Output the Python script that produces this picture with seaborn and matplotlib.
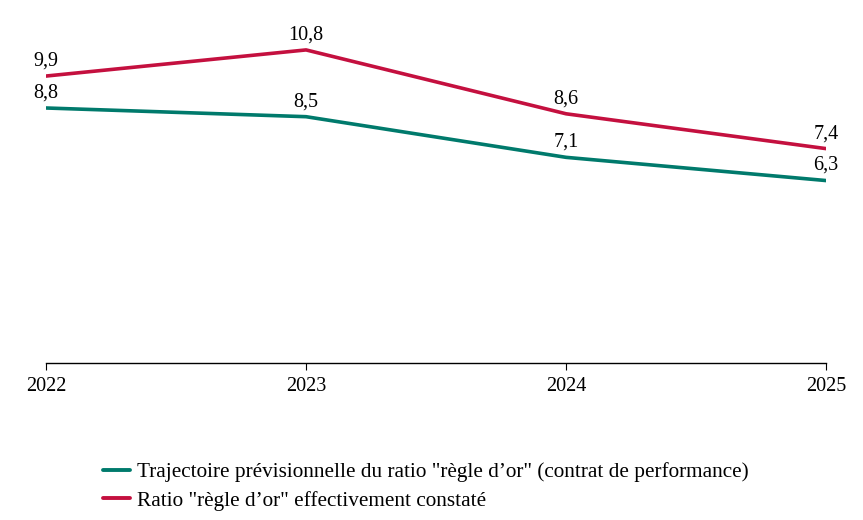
import matplotlib
matplotlib.use('Agg')
import matplotlib.pyplot as plt
import seaborn as sns
import pandas as pd

# Données
annees = [2022, 2023, 2024, 2025]
trajectoire = [8.8, 8.5, 7.1, 6.3]
constate = [9.9, 10.8, 8.6, 7.4]
noms_series = ['Trajectoire prévisionnelle du ratio "règle d\u2019or" (contrat de performance)',
               'Ratio "règle d\u2019or" effectivement constaté']
couleurs = ['#007A6C', '#C4103F']

dados = pd.DataFrame({
    'annee': annees * 2,
    'valeur': trajectoire + constate,
    'serie': [noms_series[0]] * 4 + [noms_series[1]] * 4,
})

sns.set_style('white')
plt.rcParams['font.family'] = ['Liberation Serif', 'DejaVu Serif']
plt.rcParams['text.color'] = 'black'
plt.rcParams['xtick.color'] = 'black'

fig = plt.figure(figsize=(8.63, 5.2), dpi=100)
ax = fig.add_axes([0.0533, 0.301, 0.904, 0.67])

sns.lineplot(data=dados, x='annee', y='valeur', hue='serie', palette=couleurs,
             linewidth=2.6, ax=ax, legend=False)

for serie, valeurs in zip(noms_series, [trajectoire, constate]):
    for x, y in zip(annees, valeurs):
        ax.annotate(f'{y:.1f}'.replace('.', ','), (x, y), xytext=(0, 4),
                    textcoords='offset points', ha='center', va='bottom', fontsize=14.5)

ax.set_xlim(2022, 2025)
ax.set_ylim(0, 12)
ax.set_xticks(annees)
ax.set_xticklabels([str(a) for a in annees], fontsize=14.5)
ax.set_yticks([])
ax.set_xlabel('')
ax.set_ylabel('')
for s in ['top', 'right', 'left']:
    ax.spines[s].set_visible(False)
ax.spines['bottom'].set_color('black')
ax.spines['bottom'].set_linewidth(1.0)
ax.tick_params(axis='x', direction='out', length=5, width=0.8, color='black', pad=5, bottom=True)

handles = [plt.Line2D([], [], color=c, linewidth=2.8) for c in couleurs]
fig.legend(handles, noms_series, loc='upper left', bbox_to_anchor=(0.119, 0.111),
           frameon=False, fontsize=15.3, handlelength=1.3, handletextpad=0.3,
           labelspacing=0.4, borderaxespad=0, borderpad=0)

fig.savefig('out.png', dpi=100)
